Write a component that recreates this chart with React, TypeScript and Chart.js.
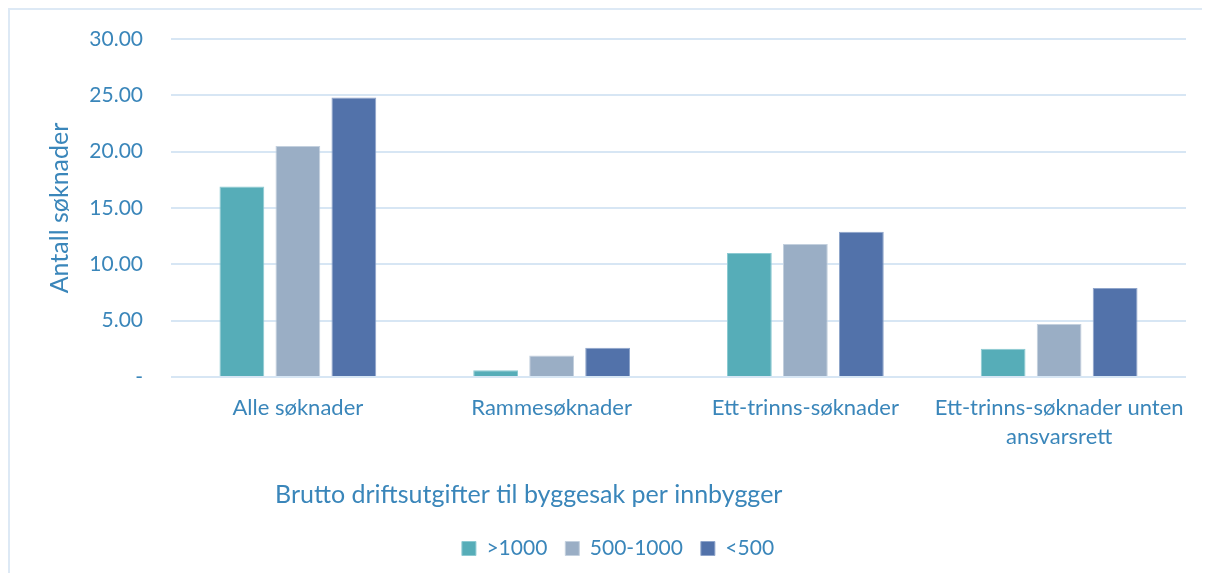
import React, { useEffect, useRef } from "react";
import { Chart, registerables } from "chart.js";

Chart.register(...registerables);

const categories: (string | string[])[] = [
  "Alle søknader",
  "Rammesøknader",
  "Ett-trinns-søknader",
  ["Ett-trinns-søknader unten", "ansvarsrett"],
];
const seriesLabels = [">1000", "500-1000", "<500"];
const over1000 = [16.9, 0.6, 11.0, 2.5];
const mid500to1000 = [20.5, 1.9, 11.8, 4.7];
const under500 = [24.8, 2.6, 12.9, 7.9];
const yTicks = [0, 5, 10, 15, 20, 25, 30];
const yTitle = "Antall søknader";
const xTitle = "Brutto driftsutgifter til byggesak per innbygger";

const colors = ["#56ADB8", "#9AAEC5", "#5272AA"];
const edge = ["#8CCAD2", "#C3D0DE", "#8FA5CB"];
const textColor = "#3A86BA";
const gridColor = "#D7E6F4";
const FONT = "Lato";

const titlesPlugin = {
  id: "axisTitles",
  afterLayout(chart: any) {
    if (chart.legend) {
      chart.legend.left += 20;
      chart.legend.right += 20;
    }
  },
  afterDraw(chart: any) {
    const { ctx, chartArea } = chart;
    ctx.save();
    ctx.fillStyle = textColor;
    ctx.font = `25px ${FONT}`;
    ctx.textAlign = "left";
    ctx.textBaseline = "middle";
    ctx.fillText(xTitle, 265, 485);
    ctx.translate(50, (chartArea.top + chartArea.bottom) / 2);
    ctx.rotate(-Math.PI / 2);
    ctx.textAlign = "center";
    ctx.font = `25px ${FONT}`;
    ctx.fillText(yTitle, 0, 0);
    ctx.restore();
  },
};

export default function App() {
  const ref = useRef<HTMLCanvasElement>(null);
  useEffect(() => {
    if (!ref.current) return;
    const datasets = [over1000, mid500to1000, under500].map((d, i) => ({
      label: seriesLabels[i],
      data: d,
      backgroundColor: colors[i],
      borderColor: edge[i],
      borderWidth: 1,
      categoryPercentage: 0.662,
      barPercentage: 0.8,
    }));
    const chart = new Chart(ref.current, {
      type: "bar",
      data: { labels: categories as any, datasets },
      plugins: [titlesPlugin],
      options: {
        responsive: false,
        animation: false,
        devicePixelRatio: 1,
        layout: { padding: { top: 29, right: 16, left: 0, bottom: 4 } },
        plugins: {
          tooltip: { enabled: false },
          legend: {
            position: "bottom",
            labels: {
              color: textColor,
              font: { family: FONT, size: 21 },
              boxWidth: 14,
              boxHeight: 14,
              padding: 18,
            },
          },
        },
        scales: {
          x: {
            grid: { display: false, drawTicks: false },
            border: { display: false },
            ticks: {
              color: textColor,
              font: { family: FONT, size: 22, lineHeight: "29px" },
              padding: 16,
              maxRotation: 0,
              autoSkip: false,
            },
            afterFit(scale: any) {
              scale.height = 143;
            },
          },
          y: {
            min: 0,
            max: 30,
            afterBuildTicks(scale: any) {
              scale.ticks = yTicks.map((v) => ({ value: v }));
            },
            afterFit(scale: any) {
              scale.width = 161;
              scale.paddingTop = 0;
              scale.paddingBottom = 0;
            },
            grid: { color: gridColor, lineWidth: 2, drawTicks: false },
            border: { display: false },
            ticks: {
              color: textColor,
              font: { family: FONT, size: 21 },
              padding: 28,
              callback: (v: any) => (Number(v) === 0 ? "-" : Number(v).toFixed(2)),
            },
          },
        },
      },
    });
    return () => chart.destroy();
  }, []);
  return (
    <div
      style={{
        width: 1192,
        height: 563,
        borderLeft: "2px solid #DDE9F5",
        borderTop: "2px solid #DDE9F5",
      }}
    >
      <canvas ref={ref} width={1192} height={563} style={{ display: "block" }} />
    </div>
  );
}
